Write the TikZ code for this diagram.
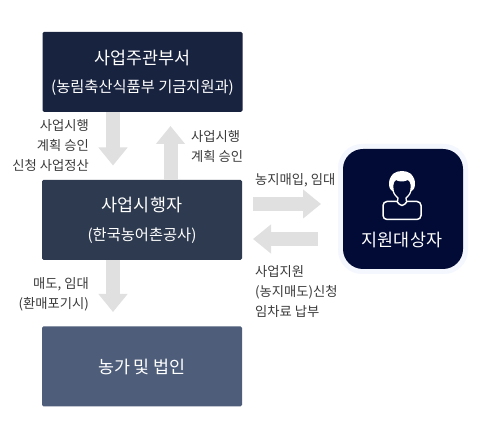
\documentclass[tikz,border=0pt]{standalone}
\usepackage{fontspec}
\setmainfont{Noto Sans CJK KR}
\usetikzlibrary{arrows.meta,calc}
\definecolor{boxa}{HTML}{18233F}
\definecolor{boxb}{HTML}{2E3A4F}
\definecolor{boxc}{HTML}{4D5D7A}
\definecolor{boxd}{HTML}{010B35}
\definecolor{halo}{HTML}{F4F7FE}
\definecolor{flowgray}{HTML}{E0E0E0}
\definecolor{labelgray}{HTML}{3A3A3A}
\tikzset{
  stage/.style={rectangle,rounded corners=1.5pt,minimum width=200pt,minimum height=80pt,inner sep=0pt,text=white,align=center},
  flow/.style={draw=flowgray,line width=14pt,-{Triangle[length=18pt,width=28pt,fill=flowgray]}},
  note/.style={text=labelgray,font=\fontsize{13.3}{20}\selectfont,inner sep=0pt},
  notel/.style={note,align=right,anchor=east},
  noter/.style={note,align=left,anchor=west},
  big/.style={font=\fontsize{17.4}{18}\selectfont},
  small/.style={font=\fontsize{15.3}{16}\selectfont},
}
\begin{document}
\begin{tikzpicture}[x=1pt,y=-1pt]
\useasboundingbox (0,0) rectangle (480,438);
\fill[white] (0,0) rectangle (480,438);
% stages
\node[stage,fill=boxa] (top) at (142.5,72) {};
\node[big,text=white,inner sep=0pt] (toptitle) at (142.5,57.5) {사업주관부서};
\node[small,text=white,inner sep=0pt] (topsub) at (142.5,87.5) {(농림축산식품부 기금지원과)};
\node[stage,fill=boxb] (mid) at (142,220) {};
\node[big,text=white,inner sep=0pt] (midtitle) at (142,204.5) {사업시행자};
\node[small,text=white,inner sep=0pt] (midsub) at (142,235.5) {(한국농어촌공사)};
\node[stage,fill=boxc,big] (bot) at (142,366.5) {농가 및 법인};
% target
\node[rectangle,rounded corners=24pt,fill=halo,minimum width=130pt,minimum height=130pt,inner sep=0pt] (halo) at (403,209) {};
\node[rectangle,rounded corners=20pt,fill=boxd,minimum width=120pt,minimum height=120pt,inner sep=0pt] (target) at (403,209) {};
\node[text=white,font=\fontsize{17.4}{18}\selectfont,inner sep=0pt] (targetlabel) at (402,240) {지원대상자};
% person icon
\draw[white,line width=1.5pt,line join=round,rounded corners=4pt]
  (391,201.5) -- (383,201.5) -- (383,219.5) -- (421,219.5) -- (421,201.5) -- (412,201.5);
\draw[white,line width=1.5pt,line join=round]
  (391,201.5) -- (397,201.5) .. controls (398,203) and (400,205.5) .. (402,205.5) .. controls (404,205.5) and (406,203) .. (407,201.5) -- (412,201.5);
\fill[white] (391,190) .. controls (387,186) and (388,171) .. (402,171) .. controls (416,171) and (417,186) .. (413,190) -- (410,192)
  .. controls (411,186) and (411,182) .. (408,180) .. controls (404,182) and (399,182) .. (396,180) .. controls (393,182) and (393,186) .. (394,192) -- cycle;
\draw[white,line width=1.3pt,line join=round]
  (393,190.5) .. controls (394,195) and (397,197) .. (398,198) -- (397.5,201.5)
  (411,190.5) .. controls (410,195) and (407,197) .. (406,198) -- (406.5,201.5);
% flows
\coordinate (d1s) at (113,112);
\coordinate (d1e) at (113,165.5);
\coordinate (u1s) at (170.5,180);
\coordinate (u1e) at (170.5,126);
\coordinate (d2s) at (113,260);
\coordinate (d2e) at (113,312);
\coordinate (r1s) at (253,204);
\coordinate (r1e) at (321,204);
\coordinate (l1s) at (318,239);
\coordinate (l1e) at (253,239);
\draw[flow] (d1s) -- (d1e);
\draw[flow] (u1s) -- (u1e);
\draw[flow] (d2s) -- (d2e);
\draw[flow] (r1s) -- (r1e);
\draw[flow] (l1s) -- (l1e);
% labels
\node[notel] (n1) at (89,145.5) {사업시행\\계획 승인\\신청 사업정산};
\node[noter] (n2) at (191,147) {사업시행\\계획 승인};
\node[noter] (n3) at (255,180) {농지매입, 임대};
\node[noter] (n4) at (255,291.5) {사업지원\\(농지매도)신청\\임차료 납부};
\node[notel] (n5) at (89,294) {매도, 임대\\(환매포기시)};
\end{tikzpicture}
\end{document}
